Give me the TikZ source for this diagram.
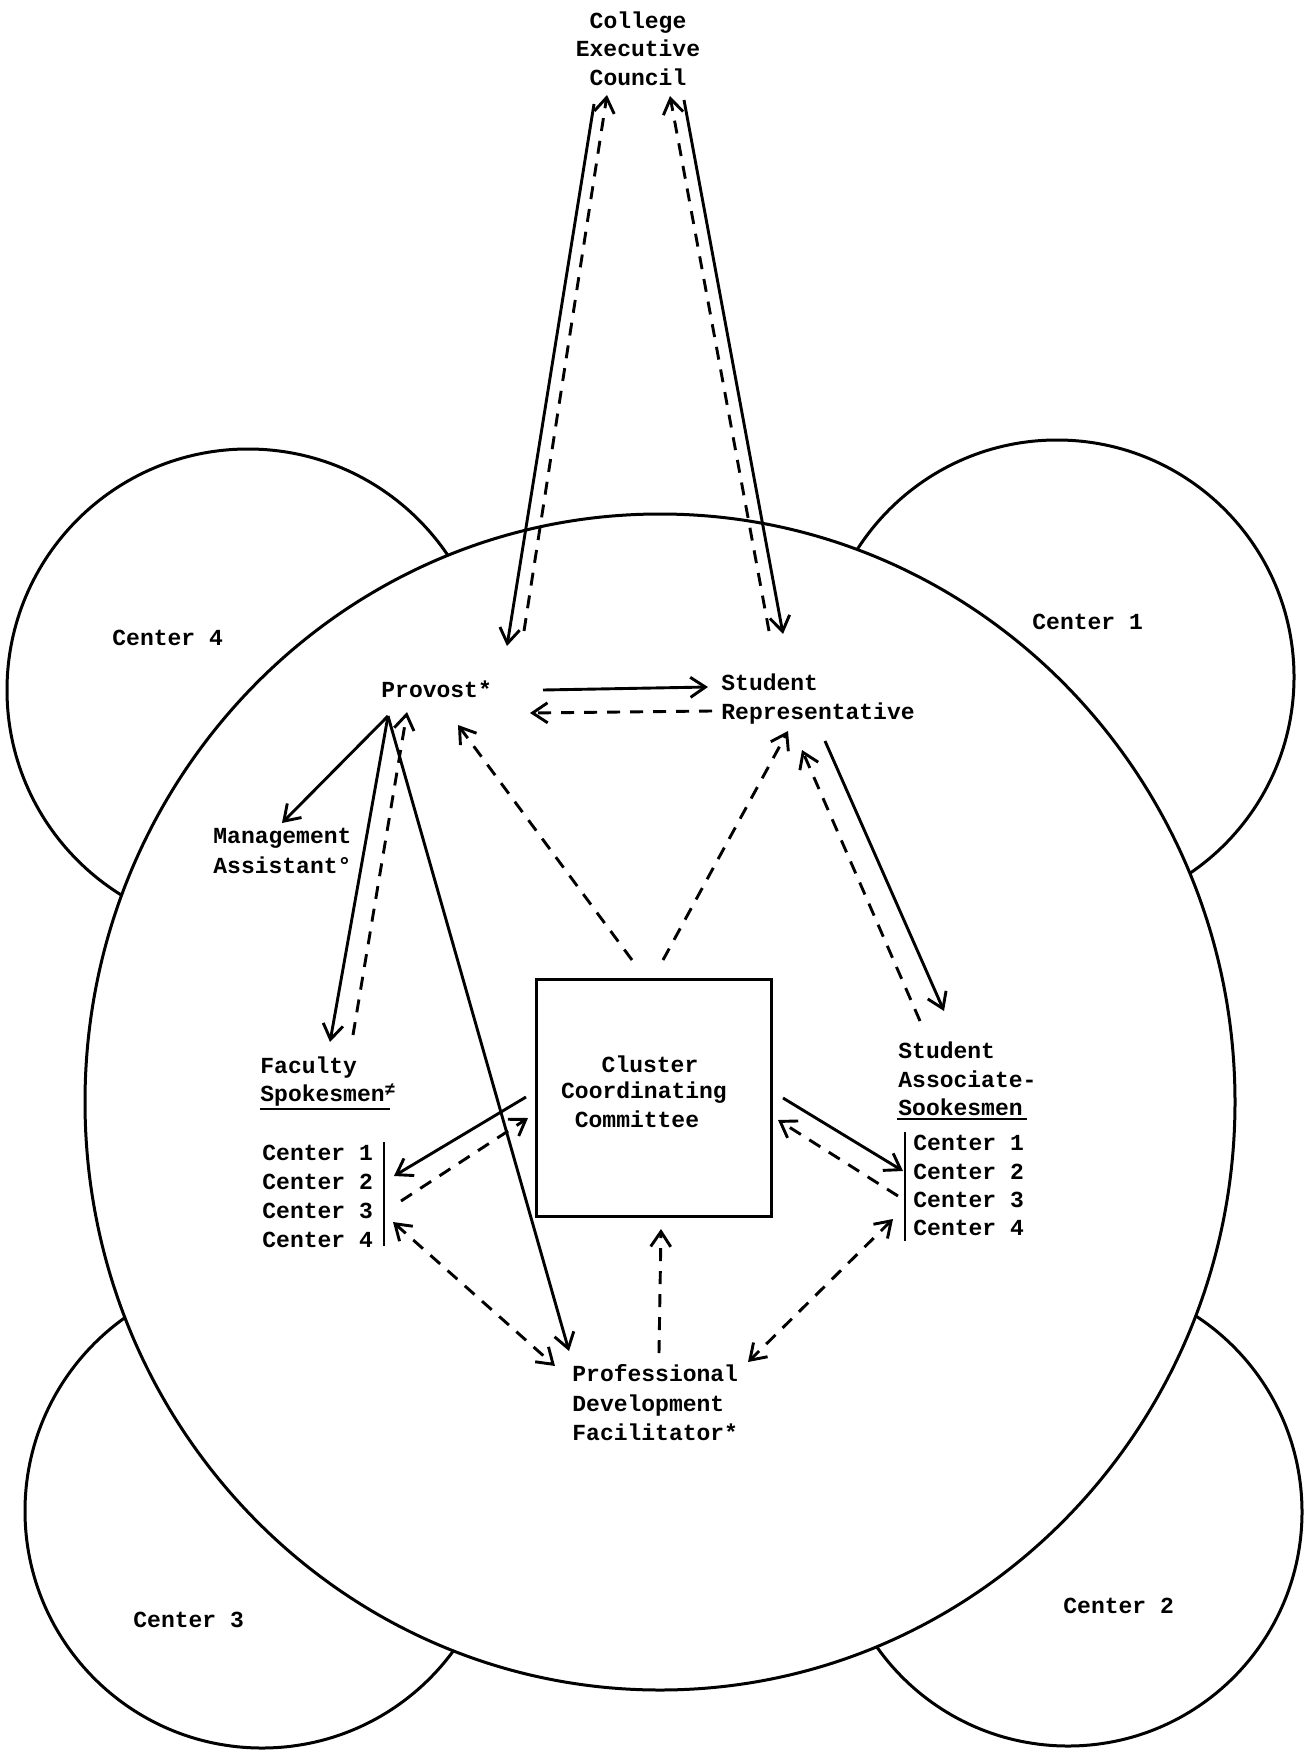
\documentclass[tikz,border=0pt]{standalone}
\usepackage{fontspec}
\setmonofont{Liberation Mono}
\usetikzlibrary{arrows.meta}
\begin{document}
\begin{tikzpicture}[x=0.5pt,y=-0.5pt,
  txt/.style={font=\ttfamily\bfseries\fontsize{11.5pt}{14pt}\selectfont, inner sep=0pt, anchor=base west},
  ctxt/.style={txt, anchor=base},
  ring/.style={line width=1.5pt, line join=round, line cap=round},
  sol/.style={line width=1.45pt, -{Straight Barb[length=7.5pt,width=10pt]}},
  dsh/.style={sol, dash pattern=on 6.5pt off 5pt},
  dshtwo/.style={line width=1.45pt, dash pattern=on 6.5pt off 5pt, {Straight Barb[length=7.5pt,width=10pt]}-{Straight Barb[length=7.5pt,width=10pt]}},
  bar/.style={line width=1.4pt}
]
\useasboundingbox (0,0) rectangle (1304,1755);
\fill[white] (0,0) rectangle (1304,1755);

% the four center circles (behind the cluster circle)
\draw[ring] (248,690) circle[radius=120.5pt];
\draw[ring] (1057,677) circle[radius=118.5pt];
\draw[ring] (262,1511) circle[radius=118.5pt];
\draw[ring] (1068,1512) circle[radius=117pt];
% main cluster circle
\filldraw[ring, fill=white] (660,1102) ellipse [x radius=575, y radius=588];

% center labels
\node[txt] (c4) at (112,645) {Center 4};
\node[txt] (c1) at (1032,629) {Center 1};
\node[txt] (c3) at (133,1627) {Center 3};
\node[txt] (c2) at (1063,1613) {Center 2};

% College Executive Council
\node[ctxt] (cec1) at (638,29) {College};
\node[ctxt] (cec2) at (638,57) {Executive};
\node[ctxt] (cec3) at (638,86) {Council};

% Provost
\node[txt] (prov) at (381,697) {Provost*};
% Student Representative
\node[txt] (sr1) at (721,690) {Student};
\node[txt] (sr2) at (721,719) {Representative};
% Management Assistant
\node[txt] (ma1) at (213,843) {Management};
\node[txt] (ma2) at (213,873) {Assistant°};
% Faculty Spokesmen
\node[txt] (fs1) at (260,1073) {Faculty};
\node[txt] (fs2) at (260,1101) {Spokesmen\raisebox{3pt}{\fontsize{9pt}{9pt}\selectfont ≠}};
\coordinate (fsul1) at (260,1109);
\coordinate (fsul2) at (390,1109);
\draw[line width=1.2pt] (fsul1) -- (fsul2);
\node[txt] (fc1) at (262,1160) {Center 1};
\node[txt] (fc2) at (262,1189) {Center 2};
\node[txt] (fc3) at (262,1218) {Center 3};
\node[txt] (fc4) at (262,1247) {Center 4};
\coordinate (fbar1) at (384,1142);
\coordinate (fbar2) at (384,1246);
\draw[bar] (fbar1) -- (fbar2);

% Cluster Coordinating Committee box
\node[draw, line width=1.5pt, minimum width=235*0.5pt, minimum height=237*0.5pt, inner sep=0pt] (ccc) at (653.5,1097.5) {};
\node[ctxt] (ccc1) at (650,1072) {Cluster};
\node[ctxt] (ccc2) at (644,1098) {Coordinating};
\node[ctxt] (ccc3) at (637,1127) {Committee};

% Student Associate-Spokesmen
\node[txt] (sa1) at (898,1058) {Student};
\node[txt] (sa2) at (898,1087) {Associate-};
\node[txt] (sa3) at (898,1115) {Sookesmen};
\coordinate (saul1) at (897,1119);
\coordinate (saul2) at (1027,1119);
\draw[line width=1.2pt] (saul1) -- (saul2);
\node[txt] (sc1) at (913,1150) {Center 1};
\node[txt] (sc2) at (913,1179) {Center 2};
\node[txt] (sc3) at (913,1207) {Center 3};
\node[txt] (sc4) at (913,1235) {Center 4};
\coordinate (sbar1) at (905,1132);
\coordinate (sbar2) at (905,1241);
\draw[bar] (sbar1) -- (sbar2);

% Professional Development Facilitator
\node[txt] (pdf1) at (572,1381) {Professional};
\node[txt] (pdf2) at (572,1411) {Development};
\node[txt] (pdf3) at (572,1440) {Facilitator*};

% ---- connector end points
\coordinate (cecL) at (594,104);   \coordinate (provT) at (507,646);
\coordinate (provTd) at (524,631); \coordinate (cecLd) at (607,95);
\coordinate (cecR) at (684,100);   \coordinate (srT) at (783,634);
\coordinate (srTd) at (769,631);   \coordinate (cecRd) at (670,96);
\coordinate (provR) at (543,690);  \coordinate (srL) at (708,687);
\coordinate (srLd) at (712,711);   \coordinate (provRd) at (530,713);
\coordinate (provB) at (388,716);
\coordinate (maT) at (282,823);
\coordinate (fsT) at (330,1042);
\coordinate (fsTd) at (353,1035);  \coordinate (provBd) at (407,712);
\coordinate (pdfT) at (569,1351);
\coordinate (cccTL) at (632,960);  \coordinate (provBR) at (458,725);
\coordinate (cccTR) at (663,960);  \coordinate (srB) at (788,731);
\coordinate (srBR) at (825,741);   \coordinate (saT) at (944,1011);
\coordinate (saTd) at (920,1021);  \coordinate (srBRd) at (802,750);
\coordinate (cccL) at (526,1097);  \coordinate (fcR) at (394,1176);
\coordinate (fcRd) at (401,1201);  \coordinate (cccLd) at (528,1118);
\coordinate (fcBR) at (393,1222);  \coordinate (pdfTL) at (555,1366);
\coordinate (pdfTm) at (659,1353); \coordinate (cccB) at (661,1229);
\coordinate (cccR) at (783,1098);  \coordinate (scL) at (903,1171);
\coordinate (scLd) at (898,1196);  \coordinate (cccRd) at (778,1120);
\coordinate (scBL) at (893,1219);  \coordinate (pdfTR) at (748,1362);

% ---- connectors
\draw[sol] (cecL) -- (provT);
\draw[dsh] (provTd) -- (cecLd);
\draw[sol] (cecR) -- (srT);
\draw[dsh] (srTd) -- (cecRd);
\draw[sol] (provR) -- (srL);
\draw[dsh] (srLd) -- (provRd);
\draw[sol] (provB) -- (maT);
\draw[sol] (provB) -- (fsT);
\draw[dsh] (fsTd) -- (provBd);
\draw[sol] (provB) -- (pdfT);
\draw[dsh] (cccTL) -- (provBR);
\draw[dsh] (cccTR) -- (srB);
\draw[sol] (srBR) -- (saT);
\draw[dsh] (saTd) -- (srBRd);
\draw[sol] (cccL) -- (fcR);
\draw[dsh] (fcRd) -- (cccLd);
\draw[dshtwo] (fcBR) -- (pdfTL);
\draw[dsh] (pdfTm) -- (cccB);
\draw[sol] (cccR) -- (scL);
\draw[dsh] (scLd) -- (cccRd);
\draw[dshtwo] (scBL) -- (pdfTR);
\end{tikzpicture}
\end{document}
